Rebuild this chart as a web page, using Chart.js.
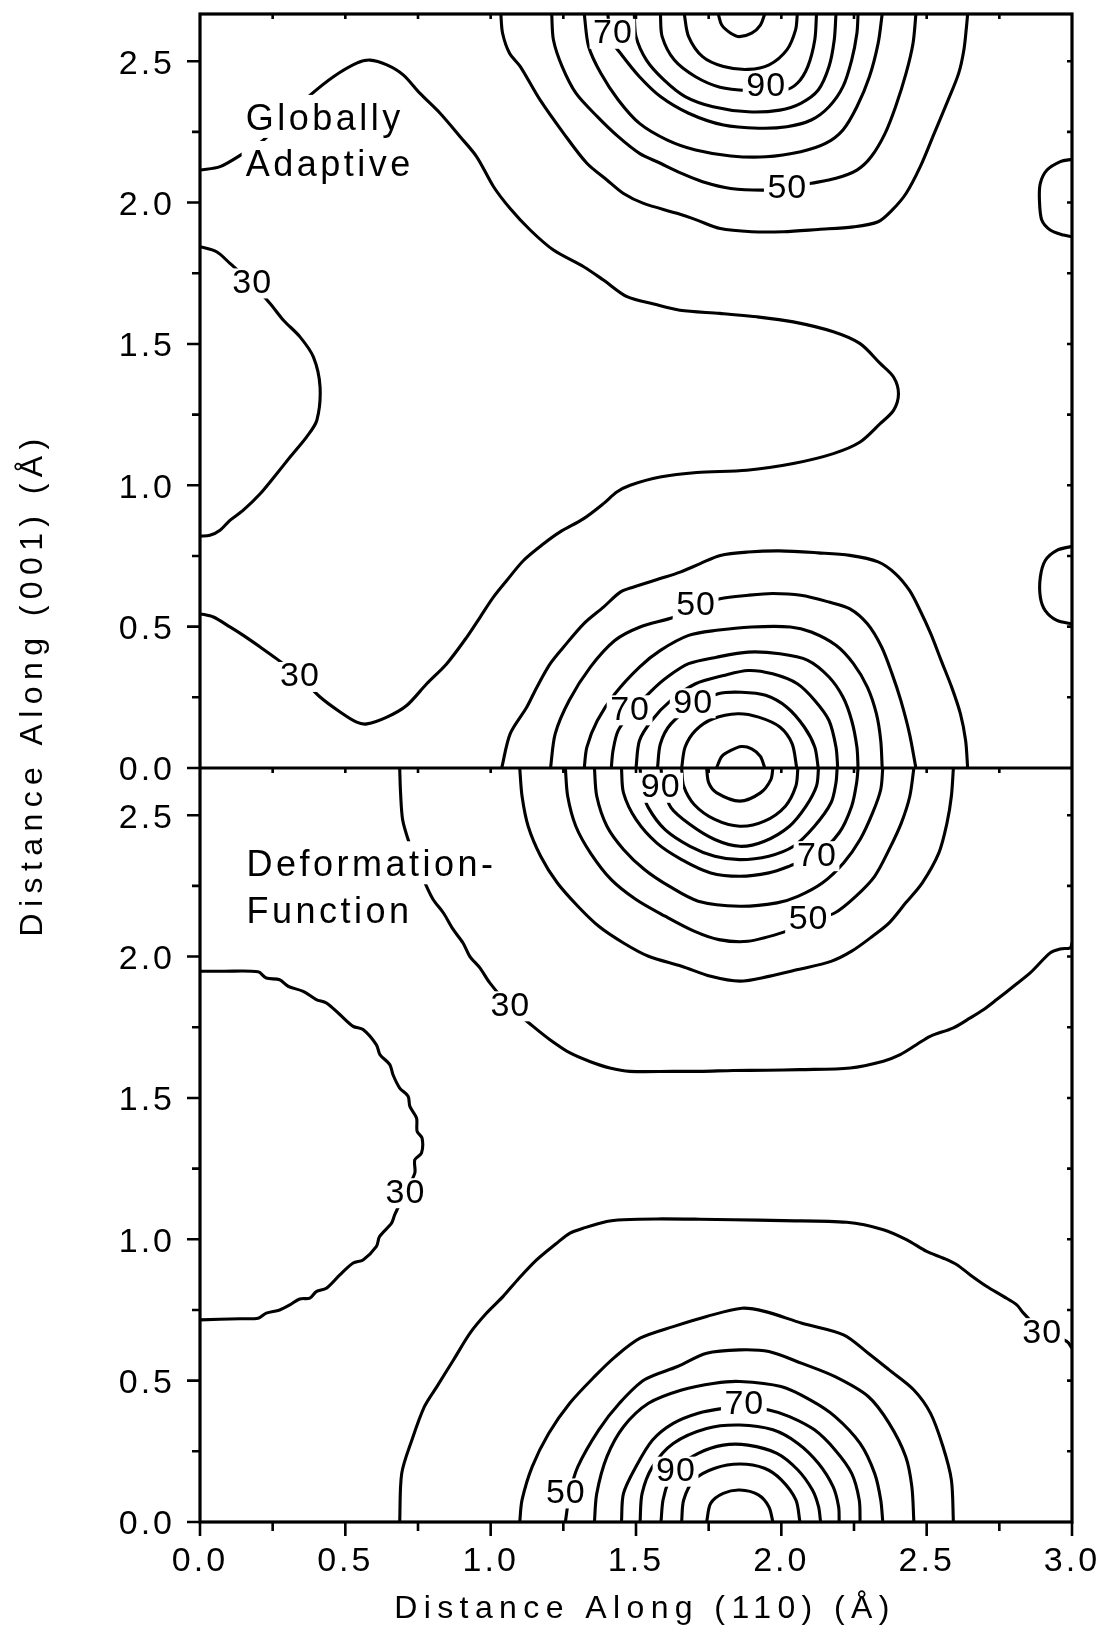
<!DOCTYPE html>
<html>
<head>
<meta charset="utf-8">
<script src="https://cdn.jsdelivr.net/npm/chart.js@4.4.1/dist/chart.umd.min.js"></script>
<style>
  html, body { margin: 0; padding: 0; background: #fff; }
</style>
</head>
<body>
<canvas id="myChart" width="1101" height="1646"></canvas>
<script>
// Height of one panel (Å). The "Globally Adaptive" panel is stacked on top of the
// "Deformation-Function" panel, so its y values get PANEL added when plotted.
const PANEL = 2.667;

const xTickValues = [0, 0.5, 1.0, 1.5, 2.0, 2.5, 3.0];
const yTickValues = [0, 0.5, 1.0, 1.5, 2.0, 2.5];
const yTickLabels = ['0.0', '0.5', '1.0', '1.5', '2.0', '2.5'];

// ---------- upper panel (Globally Adaptive), [x, y] in Å ----------
const up30Main = [[0, 2.115], [0.069, 2.127], [0.149, 2.174], [0.218, 2.221], [0.298, 2.304], [0.379, 2.380],
  [0.459, 2.445], [0.539, 2.493], [0.585, 2.504], [0.643, 2.487], [0.700, 2.451], [0.757, 2.386], [0.826, 2.316],
  [0.895, 2.233], [0.952, 2.162], [1.010, 2.056], [1.067, 1.979], [1.136, 1.903], [1.216, 1.832], [1.320, 1.773],
  [1.388, 1.726], [1.469, 1.667], [1.561, 1.641], [1.651, 1.619], [1.789, 1.608], [1.915, 1.596], [2.041, 1.578],
  [2.179, 1.543], [2.271, 1.501], [2.340, 1.431], [2.386, 1.383], [2.403, 1.324], [2.386, 1.265], [2.340, 1.218],
  [2.271, 1.153], [2.179, 1.112], [2.041, 1.077], [1.881, 1.053], [1.709, 1.045], [1.583, 1.029], [1.480, 1.000],
  [1.434, 0.976], [1.388, 0.935], [1.320, 0.882], [1.239, 0.835], [1.182, 0.793], [1.113, 0.734], [1.056, 0.664],
  [1.010, 0.605], [0.964, 0.534], [0.918, 0.463], [0.849, 0.369], [0.780, 0.298], [0.711, 0.221], [0.643, 0.180],
  [0.574, 0.156], [0.539, 0.162], [0.482, 0.198], [0.413, 0.251], [0.344, 0.322], [0.264, 0.386], [0.207, 0.428],
  [0.149, 0.469], [0.103, 0.499], [0.046, 0.534], [0, 0.546]];
const up30Lobe = [[0, 1.844], [0.057, 1.826], [0.103, 1.785], [0.178, 1.714], [0.241, 1.643], [0.287, 1.584],
  [0.344, 1.525], [0.390, 1.454], [0.413, 1.348], [0.402, 1.230], [0.367, 1.171], [0.310, 1.100], [0.264, 1.041],
  [0.207, 0.970], [0.149, 0.912], [0.103, 0.876], [0.069, 0.841], [0.034, 0.823], [0, 0.820]];
const up30EdgeA = [[3.0, 2.153], [2.960, 2.145], [2.914, 2.115], [2.891, 2.068], [2.888, 2.009], [2.896, 1.938],
  [2.925, 1.903], [2.971, 1.885], [3.0, 1.879]];
const up30EdgeB = [[3.0, 0.784], [2.948, 0.770], [2.908, 0.734], [2.891, 0.675], [2.891, 0.605], [2.908, 0.557],
  [2.948, 0.522], [3.0, 0.510]];

// rings round the peak at the bottom of the upper panel
const up40Low = [[1.038, 0], [1.067, 0.121], [1.124, 0.215], [1.159, 0.286], [1.205, 0.369], [1.251, 0.428],
  [1.320, 0.510], [1.388, 0.569], [1.446, 0.622], [1.492, 0.640], [1.583, 0.670], [1.652, 0.693], [1.721, 0.723],
  [1.790, 0.752], [1.886, 0.764], [1.994, 0.768], [2.127, 0.761], [2.236, 0.752], [2.333, 0.729], [2.393, 0.687],
  [2.441, 0.628], [2.477, 0.558], [2.514, 0.475], [2.550, 0.380], [2.586, 0.286], [2.616, 0.192], [2.634, 0.097],
  [2.641, 0]];
const up50Low = [[1.206, 0], [1.222, 0.121], [1.270, 0.239], [1.343, 0.357], [1.427, 0.451], [1.512, 0.498],
  [1.632, 0.534], [1.705, 0.572], [1.789, 0.599], [1.886, 0.611], [1.970, 0.617], [2.067, 0.611], [2.164, 0.587],
  [2.236, 0.563], [2.296, 0.510], [2.345, 0.428], [2.381, 0.333], [2.411, 0.239], [2.441, 0.121], [2.463, 0]];
const up60Low = [[1.322, 0], [1.331, 0.074], [1.367, 0.168], [1.427, 0.262], [1.512, 0.357], [1.584, 0.416],
  [1.681, 0.469], [1.777, 0.487], [1.898, 0.499], [2.031, 0.499], [2.103, 0.481], [2.188, 0.434], [2.248, 0.369],
  [2.296, 0.286], [2.327, 0.192], [2.342, 0.097], [2.347, 0]];
const up70Low = [[1.415, 0], [1.421, 0.062], [1.439, 0.133], [1.490, 0.204], [1.554, 0.274], [1.608, 0.322],
  [1.681, 0.369], [1.777, 0.392], [1.886, 0.410], [1.995, 0.404], [2.091, 0.381], [2.164, 0.322], [2.212, 0.251],
  [2.242, 0.168], [2.260, 0.074], [2.264, 0]];
const up80Low = [[1.500, 0], [1.512, 0.097], [1.554, 0.168], [1.620, 0.239], [1.705, 0.298], [1.801, 0.327],
  [1.886, 0.345], [1.970, 0.333], [2.055, 0.298], [2.115, 0.239], [2.164, 0.168], [2.188, 0.074], [2.194, 0]];
const up90Low = [[1.574, 0], [1.584, 0.086], [1.620, 0.156], [1.705, 0.227], [1.783, 0.263], [1.862, 0.268],
  [1.946, 0.257], [2.019, 0.215], [2.079, 0.145], [2.115, 0.074], [2.127, 0]];
const up100Low = [[1.657, 0], [1.669, 0.074], [1.705, 0.133], [1.765, 0.174], [1.850, 0.192], [1.922, 0.180],
  [1.995, 0.145], [2.037, 0.086], [2.053, 0]];
const up110Low = [[1.777, 0], [1.795, 0.041], [1.826, 0.062], [1.862, 0.076], [1.898, 0.068], [1.928, 0.041],
  [1.943, 0]];

// rings round the peak at the top of the upper panel
const up40High = [[1.035, 2.667], [1.041, 2.599], [1.065, 2.528], [1.102, 2.481], [1.170, 2.363], [1.251, 2.245],
  [1.331, 2.139], [1.400, 2.080], [1.457, 2.032], [1.526, 1.997], [1.641, 1.962], [1.710, 1.938], [1.790, 1.908],
  [1.898, 1.897], [2.007, 1.897], [2.127, 1.905], [2.248, 1.914], [2.333, 1.932], [2.381, 1.973], [2.429, 2.032],
  [2.478, 2.127], [2.526, 2.245], [2.574, 2.363], [2.610, 2.457], [2.628, 2.540], [2.637, 2.622], [2.641, 2.667]];
const up50High = [[1.210, 2.667], [1.216, 2.575], [1.246, 2.481], [1.294, 2.386], [1.367, 2.304], [1.439, 2.233],
  [1.512, 2.174], [1.584, 2.139], [1.657, 2.103], [1.729, 2.074], [1.826, 2.050], [1.946, 2.044], [2.019, 2.052],
  [2.103, 2.068], [2.188, 2.086], [2.260, 2.115], [2.309, 2.162], [2.357, 2.245], [2.393, 2.339], [2.429, 2.457],
  [2.453, 2.563], [2.463, 2.667]];
const up60High = [[1.322, 2.667], [1.337, 2.552], [1.379, 2.457], [1.439, 2.363], [1.512, 2.280], [1.608, 2.221],
  [1.705, 2.186], [1.826, 2.165], [1.946, 2.162], [2.067, 2.180], [2.152, 2.209], [2.212, 2.257], [2.260, 2.339],
  [2.303, 2.445], [2.333, 2.563], [2.347, 2.667]];
const up70High = [[1.403, 2.667], [1.415, 2.575], [1.451, 2.522], [1.512, 2.445], [1.584, 2.375], [1.681, 2.316],
  [1.801, 2.274], [1.922, 2.263], [2.019, 2.268], [2.103, 2.292], [2.164, 2.339], [2.212, 2.410], [2.242, 2.504],
  [2.260, 2.599], [2.264, 2.667]];
const up80High = [[1.494, 2.667], [1.500, 2.587], [1.536, 2.504], [1.596, 2.434], [1.669, 2.375], [1.765, 2.339],
  [1.886, 2.321], [1.995, 2.327], [2.067, 2.351], [2.127, 2.398], [2.164, 2.481], [2.182, 2.575], [2.188, 2.667]];
const up90High = [[1.584, 2.667], [1.590, 2.587], [1.632, 2.504], [1.705, 2.445], [1.789, 2.408], [1.886, 2.396],
  [2.007, 2.396], [2.055, 2.422], [2.091, 2.481], [2.115, 2.575], [2.121, 2.667]];
const up100High = [[1.666, 2.667], [1.681, 2.587], [1.729, 2.516], [1.801, 2.481], [1.886, 2.471], [1.958, 2.487],
  [2.019, 2.540], [2.049, 2.611], [2.055, 2.667]];
const up110High = [[1.783, 2.667], [1.795, 2.628], [1.826, 2.599], [1.856, 2.587], [1.898, 2.599], [1.928, 2.628],
  [1.943, 2.667]];

// ---------- lower panel (Deformation-Function) ----------
const lo30Top = [[0.687, 2.667], [0.690, 2.579], [0.697, 2.485], [0.716, 2.414], [0.745, 2.332], [0.779, 2.249],
  [0.802, 2.202], [0.837, 2.155], [0.871, 2.096], [0.905, 2.048], [0.928, 2.001], [0.963, 1.960], [0.997, 1.907],
  [1.066, 1.824], [1.146, 1.753], [1.204, 1.706], [1.273, 1.659], [1.341, 1.629], [1.410, 1.606], [1.479, 1.594],
  [1.628, 1.594], [1.720, 1.594], [1.835, 1.597], [1.950, 1.598], [2.064, 1.600], [2.237, 1.606], [2.351, 1.630],
  [2.409, 1.653], [2.466, 1.689], [2.512, 1.718], [2.592, 1.748], [2.650, 1.783], [2.695, 1.812], [2.741, 1.848],
  [2.799, 1.895], [2.856, 1.942], [2.925, 2.013], [2.959, 2.027], [2.994, 2.031], [3.0, 2.048]];
const lo30Lobe = [[0, 1.948], [0.079, 1.948], [0.200, 1.946], [0.228, 1.924], [0.274, 1.918], [0.303, 1.895],
  [0.355, 1.877], [0.400, 1.848], [0.435, 1.836], [0.481, 1.795], [0.527, 1.753], [0.561, 1.742], [0.607, 1.688],
  [0.619, 1.653], [0.653, 1.618], [0.664, 1.582], [0.687, 1.535], [0.716, 1.506], [0.722, 1.470], [0.745, 1.429],
  [0.747, 1.382], [0.764, 1.358], [0.762, 1.305], [0.739, 1.281], [0.739, 1.234], [0.705, 1.163], [0.670, 1.087],
  [0.659, 1.057], [0.618, 1.010], [0.607, 0.975], [0.561, 0.927], [0.527, 0.916], [0.481, 0.874], [0.435, 0.827],
  [0.400, 0.815], [0.378, 0.792], [0.343, 0.789], [0.309, 0.768], [0.274, 0.750], [0.228, 0.739], [0.200, 0.721],
  [0.137, 0.719], [0, 0.715]];
const lo30Bottom = [[0.687, 0], [0.694, 0.172], [0.729, 0.290], [0.772, 0.408], [0.815, 0.479], [0.872, 0.573],
  [0.929, 0.668], [0.986, 0.739], [1.043, 0.798], [1.093, 0.857], [1.158, 0.927], [1.227, 0.986], [1.273, 1.022],
  [1.318, 1.039], [1.399, 1.063], [1.456, 1.069], [1.571, 1.072], [1.720, 1.071], [1.835, 1.069], [2.007, 1.066],
  [2.225, 1.060], [2.351, 1.034], [2.432, 0.998], [2.500, 0.957], [2.558, 0.933], [2.604, 0.910], [2.650, 0.874],
  [2.707, 0.833], [2.764, 0.798], [2.810, 0.768], [2.833, 0.739], [2.896, 0.675], [2.982, 0.639], [3.0, 0.615]];

// rings round the peak at the top of the lower panel
const lo40High = [[1.100, 2.667], [1.108, 2.567], [1.129, 2.461], [1.172, 2.355], [1.229, 2.261], [1.300, 2.178],
  [1.372, 2.107], [1.457, 2.048], [1.543, 2.001], [1.657, 1.966], [1.757, 1.930], [1.857, 1.913], [1.957, 1.930],
  [2.057, 1.954], [2.171, 1.983], [2.242, 2.019], [2.314, 2.072], [2.371, 2.119], [2.428, 2.190], [2.485, 2.261],
  [2.542, 2.367], [2.570, 2.473], [2.585, 2.567], [2.592, 2.667]];
const lo50High = [[1.257, 2.667], [1.265, 2.567], [1.293, 2.461], [1.343, 2.367], [1.414, 2.273], [1.500, 2.202],
  [1.600, 2.143], [1.700, 2.090], [1.785, 2.060], [1.885, 2.054], [2.019, 2.090], [2.100, 2.125], [2.185, 2.155],
  [2.256, 2.213], [2.321, 2.284], [2.371, 2.379], [2.413, 2.473], [2.442, 2.567], [2.456, 2.667]];
const lo60High = [[1.357, 2.667], [1.365, 2.567], [1.400, 2.461], [1.457, 2.379], [1.529, 2.308], [1.614, 2.249],
  [1.714, 2.196], [1.857, 2.178], [1.985, 2.190], [2.057, 2.213], [2.142, 2.261], [2.214, 2.331], [2.271, 2.414],
  [2.314, 2.508], [2.342, 2.591], [2.349, 2.667]];
const lo70High = [[1.450, 2.667], [1.457, 2.579], [1.500, 2.485], [1.571, 2.402], [1.657, 2.343], [1.757, 2.296],
  [1.857, 2.284], [1.957, 2.296], [2.028, 2.320], [2.121, 2.360], [2.199, 2.438], [2.242, 2.532], [2.259, 2.615],
  [2.264, 2.667]];
const lo80High = [[1.514, 2.667], [1.521, 2.591], [1.543, 2.526], [1.600, 2.449], [1.686, 2.390], [1.771, 2.355],
  [1.857, 2.343], [1.957, 2.355], [2.042, 2.390], [2.114, 2.461], [2.171, 2.544], [2.188, 2.615], [2.192, 2.667]];
const lo90High = [[1.586, 2.667], [1.593, 2.603], [1.621, 2.526], [1.686, 2.467], [1.771, 2.414], [1.857, 2.390],
  [1.942, 2.408], [2.028, 2.461], [2.085, 2.532], [2.121, 2.603], [2.128, 2.667]];
const lo100High = [[1.657, 2.667], [1.664, 2.603], [1.700, 2.538], [1.771, 2.485], [1.857, 2.461], [1.942, 2.479],
  [2.014, 2.532], [2.050, 2.603], [2.057, 2.667]];
const lo110High = [[1.743, 2.667], [1.750, 2.615], [1.778, 2.579], [1.857, 2.550], [1.928, 2.579], [1.964, 2.626],
  [1.971, 2.667]];

// rings round the peak at the bottom of the lower panel
const lo40Low = [[1.100, 0], [1.108, 0.078], [1.143, 0.196], [1.200, 0.314], [1.272, 0.420], [1.357, 0.514],
  [1.429, 0.585], [1.514, 0.650], [1.628, 0.691], [1.743, 0.727], [1.864, 0.756], [1.942, 0.745], [2.071, 0.703],
  [2.214, 0.662], [2.299, 0.597], [2.371, 0.538], [2.456, 0.467], [2.513, 0.385], [2.556, 0.267], [2.585, 0.149],
  [2.592, 0]];
const lo50Low = [[1.257, 0], [1.272, 0.101], [1.300, 0.196], [1.372, 0.326], [1.443, 0.420], [1.529, 0.503],
  [1.643, 0.550], [1.743, 0.597], [1.857, 0.609], [1.957, 0.603], [2.071, 0.561], [2.185, 0.514], [2.299, 0.444],
  [2.371, 0.349], [2.428, 0.231], [2.449, 0.125], [2.456, 0]];
const lo60Low = [[1.357, 0], [1.365, 0.101], [1.400, 0.231], [1.457, 0.337], [1.543, 0.420], [1.657, 0.467],
  [1.771, 0.491], [1.857, 0.497], [1.999, 0.479], [2.099, 0.432], [2.185, 0.373], [2.271, 0.278], [2.321, 0.172],
  [2.342, 0.078], [2.349, 0]];
const lo70Low = [[1.450, 0], [1.457, 0.101], [1.500, 0.196], [1.557, 0.290], [1.628, 0.349], [1.714, 0.385],
  [1.800, 0.402], [1.871, 0.408], [1.957, 0.396], [2.028, 0.373], [2.114, 0.326], [2.185, 0.255], [2.242, 0.172],
  [2.268, 0.078], [2.271, 0]];
const lo80Low = [[1.514, 0], [1.521, 0.101], [1.557, 0.196], [1.628, 0.278], [1.743, 0.331], [1.857, 0.343],
  [1.971, 0.326], [2.057, 0.278], [2.128, 0.207], [2.178, 0.125], [2.197, 0.054], [2.199, 0]];
const lo90Low = [[1.586, 0], [1.593, 0.078], [1.614, 0.149], [1.640, 0.190], [1.714, 0.243], [1.800, 0.272],
  [1.885, 0.272], [1.985, 0.243], [2.057, 0.184], [2.107, 0.113], [2.128, 0.054], [2.135, 0]];
const lo100Low = [[1.657, 0], [1.664, 0.078], [1.700, 0.149], [1.771, 0.190], [1.857, 0.205], [1.942, 0.190],
  [2.000, 0.149], [2.050, 0.078], [2.064, 0]];
const lo110Low = [[1.743, 0], [1.757, 0.066], [1.800, 0.101], [1.857, 0.113], [1.921, 0.096], [1.957, 0.054],
  [1.971, 0]];

// contour level labels: [text, x, y]
const upperLabels = [['30', 0.178, 1.714], ['30', 0.342, 0.322], ['50', 1.705, 0.575], ['70', 1.478, 0.204],
  ['90', 1.695, 0.229], ['70', 1.419, 2.597], ['90', 1.946, 2.409], ['50', 2.019, 2.050]];
const lowerLabels = [['30', 1.066, 1.824], ['30', 0.705, 1.163], ['30', 2.896, 0.668], ['90', 1.583, 2.597],
  ['70', 2.121, 2.355], ['50', 2.092, 2.131], ['70', 1.871, 0.414], ['90', 1.636, 0.178], ['50', 1.257, 0.101]];

const upperContours = [up30Main, up30Lobe, up30EdgeA, up30EdgeB,
  up40Low, up50Low, up60Low, up70Low, up80Low, up90Low, up100Low, up110Low,
  up40High, up50High, up60High, up70High, up80High, up90High, up100High, up110High];
const lowerContours = [lo30Top, lo30Lobe, lo30Bottom,
  lo40High, lo50High, lo60High, lo70High, lo80High, lo90High, lo100High, lo110High,
  lo40Low, lo50Low, lo60Low, lo70Low, lo80Low, lo90Low, lo100Low, lo110Low];

const FONT = '"Liberation Sans", Arial, Helvetica, sans-serif';

function contourDataset(points, offset) {
  return {
    data: points.map(p => ({ x: p[0], y: p[1] + offset })),
    showLine: true,
    borderColor: '#000',
    borderWidth: 3.1,
    pointRadius: 0,
    tension: 0.3,
    fill: false
  };
}

const datasets = [];
upperContours.forEach(c => datasets.push(contourDataset(c, PANEL)));
lowerContours.forEach(c => datasets.push(contourDataset(c, 0)));

// text with a white box behind it, so the contour line looks broken there
function boxedText(ctx, text, px, py, align) {
  const w = ctx.measureText(text).width;
  const left = align === 'center' ? px - w / 2 : px;
  ctx.fillStyle = '#fff';
  if (align === 'center') {
    ctx.fillRect(left - 3, py - 15, w + 6, 30);
  } else {
    ctx.fillRect(left - 4, py - 35, w + 6, 43);
  }
  ctx.fillStyle = '#000';
  ctx.fillText(text, align === 'center' ? px + 0.5 : px, py);
}

const framePlugin = {
  id: 'frame',
  beforeDraw(chart) {
    chart.ctx.letterSpacing = '3px';       // spaced-out tick labels like the original
  },
  afterDatasetsDraw(chart) {
    const { ctx, chartArea: a, scales: { x, y } } = chart;
    ctx.save();

    // contour labels
    ctx.font = '34px ' + FONT;
    ctx.letterSpacing = '1px';
    ctx.textAlign = 'center';
    ctx.textBaseline = 'middle';
    upperLabels.forEach(l => boxedText(ctx, l[0], x.getPixelForValue(l[1]), y.getPixelForValue(l[2] + PANEL), 'center'));
    lowerLabels.forEach(l => boxedText(ctx, l[0], x.getPixelForValue(l[1]), y.getPixelForValue(l[2]), 'center'));

    // panel names
    ctx.font = '36px ' + FONT;
    ctx.letterSpacing = '3.5px';
    ctx.textAlign = 'left';
    ctx.textBaseline = 'alphabetic';
    boxedText(ctx, 'Globally', x.getPixelForValue(0.157), y.getPixelForValue(2.257 + PANEL), 'left');
    boxedText(ctx, 'Adaptive', x.getPixelForValue(0.157), y.getPixelForValue(2.094 + PANEL), 'left');
    boxedText(ctx, 'Deformation-', x.getPixelForValue(0.160), y.getPixelForValue(2.284), 'left');
    boxedText(ctx, 'Function', x.getPixelForValue(0.160), y.getPixelForValue(2.119), 'left');

    // frame and the line between the two panels
    ctx.strokeStyle = '#000';
    ctx.lineWidth = 3.2;
    ctx.strokeRect(a.left, a.top, a.right - a.left, a.bottom - a.top);
    const mid = y.getPixelForValue(PANEL);
    ctx.beginPath();
    ctx.moveTo(a.left, mid);
    ctx.lineTo(a.right, mid);
    ctx.stroke();

    // tick marks
    ctx.lineWidth = 2.6;
    ctx.beginPath();
    for (let k = 1; k <= 11; k++) {
      const v = k * 0.25;
      const major = k % 2 === 0;
      [0, PANEL].forEach(off => {
        if (v > PANEL) return;
        const py = y.getPixelForValue(v + off);
        ctx.moveTo(a.left, py); ctx.lineTo(a.left - (major ? 13 : 8), py);   // left, outward
        ctx.moveTo(a.right, py); ctx.lineTo(a.right - 5, py);                // right, inward
      });
    }
    ctx.moveTo(a.left, mid); ctx.lineTo(a.left - 13, mid);
    ctx.moveTo(a.left, a.bottom); ctx.lineTo(a.left - 13, a.bottom);
    for (let k = 0; k <= 12; k++) {
      const px = x.getPixelForValue(k * 0.25);
      ctx.moveTo(px, a.bottom); ctx.lineTo(px, a.bottom + (k % 2 === 0 ? 14 : 9));   // bottom, outward
      if (k > 0 && k < 12) {
        ctx.moveTo(px, a.top); ctx.lineTo(px, a.top + 5);                          // top, inward
        ctx.moveTo(px, mid); ctx.lineTo(px, mid + 5);
      }
    }
    ctx.stroke();

    // axis titles
    ctx.font = '32px ' + FONT;
    ctx.letterSpacing = '6.4px';
    ctx.textAlign = 'center';
    ctx.textBaseline = 'alphabetic';
    ctx.fillStyle = '#000';
    ctx.fillText('Distance Along (110) (Å)', (a.left + a.right) / 2 + 9, a.bottom + 96);
    ctx.translate(42, y.getPixelForValue(PANEL + 0.285));
    ctx.rotate(-Math.PI / 2);
    ctx.fillText('Distance Along (001) (Å)', 3, 0);

    ctx.restore();
  }
};

const tickFont = { family: FONT, size: 34 };

const myChart = new Chart(document.getElementById('myChart'), {
  type: 'scatter',
  data: { datasets },
  options: {
    responsive: false,
    animation: false,
    devicePixelRatio: 1,
    layout: { padding: { top: 14, right: 29, left: 0, bottom: 0 } },
    plugins: { legend: { display: false }, tooltip: { enabled: false } },
    scales: {
      x: {
        type: 'linear',
        min: 0,
        max: 3,
        afterBuildTicks: s => { s.ticks = xTickValues.map(v => ({ value: v })); },
        afterFit: s => { s.height = 124; s.paddingLeft = 0; s.paddingRight = 0; },
        grid: { display: false, drawTicks: false },
        border: { display: false },
        ticks: { font: tickFont, color: '#000', padding: 19, maxRotation: 0, autoSkip: false,
                 callback: v => v.toFixed(1) }
      },
      y: {
        type: 'linear',
        min: 0,
        max: 2 * PANEL,
        afterBuildTicks: s => {
          s.ticks = yTickValues.concat(yTickValues.map(v => v + PANEL)).map(v => ({ value: v }));
        },
        afterFit: s => { s.width = 200; s.paddingTop = 0; s.paddingBottom = 0; },
        grid: { display: false, drawTicks: false },
        border: { display: false },
        ticks: { font: tickFont, color: '#000', padding: 25, labelOffset: 3, autoSkip: false,
                 callback: (v, i) => yTickLabels[i % yTickLabels.length] }
      }
    }
  },
  plugins: [framePlugin]
});
</script>
</body>
</html>
